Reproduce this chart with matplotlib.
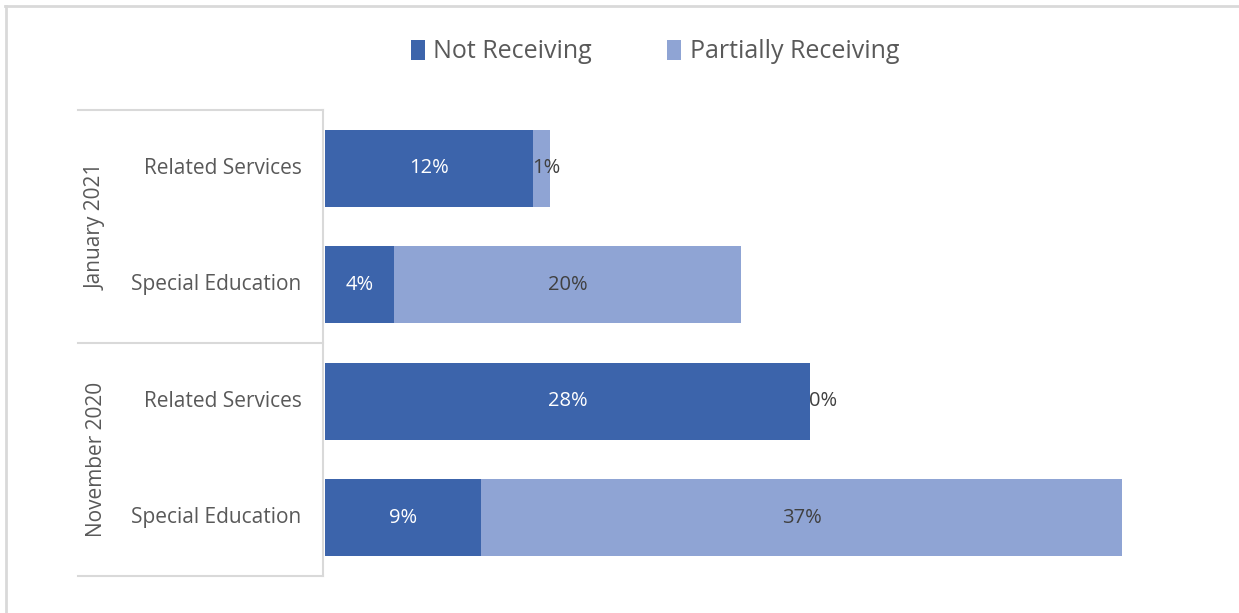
import matplotlib
matplotlib.use("Agg")
import matplotlib.pyplot as plt
from matplotlib.lines import Line2D
from matplotlib.patches import Patch

# rows listed bottom to top, as the category axis draws them
periods = ["November 2020", "November 2020", "January 2021", "January 2021"]
services = ["Special Education", "Related Services", "Special Education", "Related Services"]
not_receiving = [9, 28, 4, 12]
partially_receiving = [37, 0, 20, 1]
group_names = ["November 2020", "January 2021"]

DARK = "#3C64AB"
LIGHT = "#8FA4D4"
GRID = "#D9D9D9"
TXT = "#595959"

plt.rcParams["font.family"] = ["Open Sans", "DejaVu Sans"]

W, H = 1239, 613
fig = plt.figure(figsize=(W / 100, H / 100), dpi=100)


def fx(px):
    return px / W


def fy(py):
    return 1 - py / H


ax = fig.add_axes([fx(325), fy(576), fx(1191.5) - fx(325), fy(110) - fy(576)])
ys = list(range(len(services)))
ax.barh(ys, not_receiving, height=0.66, color=DARK, edgecolor="none")
ax.barh(ys, partially_receiving, left=not_receiving, height=0.66, color=LIGHT, edgecolor="none")
ax.set_xlim(0, 50)
ax.set_ylim(-0.5, len(services) - 0.5)
ax.axis("off")

# value labels: centred inside, or just right of a sliver segment
for y, a, b in zip(ys, not_receiving, partially_receiving):
    ax.text(a / 2, y, f"{a}%", ha="center", va="center", color="white", fontsize=14.5)
    if b >= 3:
        ax.text(a + b / 2, y, f"{b}%", ha="center", va="center", color="#404040", fontsize=14.5)
    else:
        ax.text(a - 0.05, y, f"{b}%", ha="left", va="center", color="#404040", fontsize=14.5)

# inner category labels
for y, s in zip(ys, services):
    ax.text(-1.35, y, s, ha="right", va="center", color=TXT, fontsize=15,
            clip_on=False)

# outer group labels and bracket lines
for i, g in enumerate(group_names):
    yc = (2 * i + 0.5)
    ax.text(-13.2, yc, g, ha="center", va="center", rotation=90, color=TXT,
            fontsize=15, clip_on=False)

for py in (110, 343, 576):
    fig.add_artist(Line2D([fx(78), fx(323)], [fy(py), fy(py)], color=GRID, lw=1.5))
fig.add_artist(Line2D([fx(323), fx(323)], [fy(110), fy(576)], color=GRID, lw=1.5))

# chart frame (top and left edges)
fig.add_artist(Line2D([fx(5), fx(1239)], [fy(6), fy(6)], color=GRID, lw=2))
fig.add_artist(Line2D([fx(6), fx(6)], [fy(6), fy(613)], color=GRID, lw=2))

handles = [Patch(facecolor=DARK, label="Not Receiving"),
           Patch(facecolor=LIGHT, label="Partially Receiving")]
fig.legend(handles=handles, loc="center", bbox_to_anchor=(fx(655), fy(52)), ncol=2,
           frameon=False, fontsize=18, labelcolor=TXT, handlelength=0.55, handleheight=0.85,
           handletextpad=0.35, columnspacing=3.0)

fig.savefig("out.png", dpi=100)
